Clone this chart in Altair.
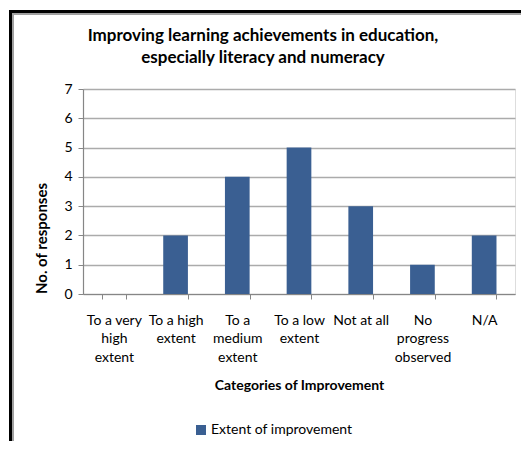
import altair as alt
import pandas as pd

categories = ["To a very high extent", "To a high extent", "To a medium extent",
              "To a low extent", "Not at all", "No progress observed", "N/A"]
label_lines = ["To a very|high|extent", "To a high|extent", "To a|medium|extent",
               "To a low|extent", "Not at all", "No|progress|observed", "N/A"]
values = [0, 2, 4, 5, 3, 1, 2]
series = "Extent of improvement"
y_ticks = [0, 1, 2, 3, 4, 5, 6, 7]

df = pd.DataFrame({"label": label_lines, "category": categories,
                   "value": values, "series": [series] * len(values)})

FONT = "Lato"
W, H = 432, 205
PL, PT = 75, 81
TOTAL_W, TOTAL_H = 513, 433

bars = alt.Chart(df).mark_bar().encode(
    x=alt.X("label:N", sort=label_lines,
            scale=alt.Scale(paddingInner=0.6, paddingOuter=0.3),
            axis=alt.Axis(title="Categories of Improvement",
                          labelExpr="split(datum.label, '|')",
                          labelAngle=0, labelFont=FONT, labelFontSize=14,
                          labelColor="#000000", labelLineHeight=18.5,
                          labelPadding=14, labelAlign="center", labelBaseline="top",
                          tickBand="extent", tickSize=5, tickColor="#868686",
                          domainColor="#868686", domainWidth=1.2,
                          titleFont=FONT, titleFontSize=14, titleFontWeight="bold",
                          titleColor="#000000", titleY=91, titleBaseline="middle",
                          grid=False)),
    y=alt.Y("value:Q", scale=alt.Scale(domain=[0, 7], nice=False),
            axis=alt.Axis(title="No. of responses", values=y_ticks, format="d",
                          labelFont=FONT, labelFontSize=14, labelColor="#000000",
                          labelPadding=6, tickSize=5, tickColor="#868686",
                          domainColor="#868686", domainWidth=1.2,
                          gridColor="#ABABAB", gridWidth=1.6,
                          titleFont=FONT, titleFontSize=15, titleFontWeight="bold",
                          titleColor="#000000", titleAngle=-90,
                          titleX=-42, titleY=149, titleAlign="center",
                          titleBaseline="middle")),
    color=alt.Color("series:N",
                    scale=alt.Scale(domain=[series], range=["#3A5F92"]),
                    legend=alt.Legend(title=None, orient="none",
                                      legendX=111, legendY=334,
                                      symbolType="square", symbolSize=100,
                                      symbolStrokeWidth=0, padding=0,
                                      labelFont=FONT, labelFontSize=14,
                                      labelColor="#000000", labelOffset=3)),
)

frame_v = alt.Chart(df).mark_rule(color="#000000", strokeWidth=3).encode(
    x=alt.value(-PL + 2.5), y=alt.value(-PT + 2), y2=alt.value(TOTAL_H - PT)
)
frame_h = alt.Chart(df).mark_rule(color="#000000", strokeWidth=3).encode(
    x=alt.value(-PL + 1), x2=alt.value(TOTAL_W - PL), y=alt.value(-PT + 3.5)
)
inner_v = alt.Chart(df).mark_rule(color="#A0A0A0", strokeWidth=1.2).encode(
    x=alt.value(-PL + 5), y=alt.value(-PT + 5), y2=alt.value(TOTAL_H - PT)
)
inner_h = alt.Chart(df).mark_rule(color="#A0A0A0", strokeWidth=1.2).encode(
    x=alt.value(-PL + 5), x2=alt.value(TOTAL_W - PL), y=alt.value(-PT + 6)
)

chart = alt.layer(bars, frame_v, frame_h, inner_v, inner_h).properties(
    width=W, height=H,
    autosize=alt.AutoSizeParams(type="none"),
    padding={"left": PL, "top": PT, "right": TOTAL_W - PL - W,
             "bottom": TOTAL_H - PT - H},
    title=alt.Title(["Improving learning achievements in education,",
                     "especially literacy and numeracy"],
                    font=FONT, fontSize=17, fontWeight="bold", color="#000000",
                    anchor="middle", dx=-36, dy=82, offset=24, lineHeight=22),
).configure_view(stroke=None).configure(background="#FFFFFF")

chart.save("out.html", embed_options={"renderer": "svg", "actions": False})
